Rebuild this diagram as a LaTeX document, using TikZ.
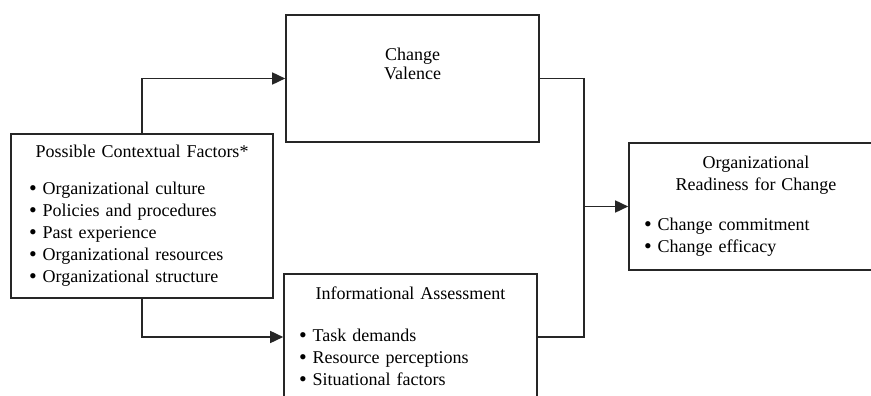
\documentclass[tikz,border=0pt]{standalone}
\usepackage{fontspec}
\setmainfont{Liberation Serif}
\usetikzlibrary{arrows.meta}

\newcommand{\factoritem}{{\fontsize{22}{22}\selectfont\raisebox{-1pt}{\textbullet}}\hspace{6pt}}

\tikzset{
  factor/.style={draw=black!85, line width=1.6pt, font=\fontsize{18}{22}\selectfont},
  flow/.style={draw=black!85, line width=1.6pt},
  toarrow/.style={-{Triangle[length=13pt,width=12pt]}}
}

\begin{document}
\begin{tikzpicture}[x=1pt,y=-1pt]
\clip (0,0) rectangle (871,396);
\node[factor, minimum width=262pt, minimum height=164pt, text width=226pt] (ctx) at (142,216)
  {\centering Possible Contextual Factors*\par\vspace{15pt}\raggedright
   \factoritem Organizational culture\\
   \factoritem Policies and procedures\\
   \factoritem Past experience\\
   \factoritem Organizational resources\\
   \factoritem Organizational structure};
\node[factor, minimum width=253pt, minimum height=127pt, font=\fontsize{18}{19}\selectfont] (cv) at (412.5,78.5)
  {\parbox[c][61pt][t]{200pt}{\centering Change\\Valence}};
\node[factor, minimum width=253pt, minimum height=126pt, text width=223pt] (ia) at (410.5,337)
  {\centering Informational Assessment\par\vspace{20pt}\raggedright
   \factoritem Task demands\\
   \factoritem Resource perceptions\\
   \factoritem Situational factors};
\node[factor, minimum width=254pt, minimum height=127pt, text width=224pt] (rr) at (756,206.5)
  {\centering Organizational\\Readiness for Change\par\vspace{18pt}\raggedright
   \factoritem Change commitment\\
   \factoritem Change efficacy};
\coordinate (merge) at (584,206.5);
\draw[flow, toarrow] (ctx.north) |- (cv.west);
\draw[flow, toarrow] (ctx.south) |- (ia.west);
\draw[flow] (cv.east) -| (merge);
\draw[flow] (ia.east) -| (merge);
\draw[flow, toarrow] (merge) -- (rr.west);
\end{tikzpicture}
\end{document}
